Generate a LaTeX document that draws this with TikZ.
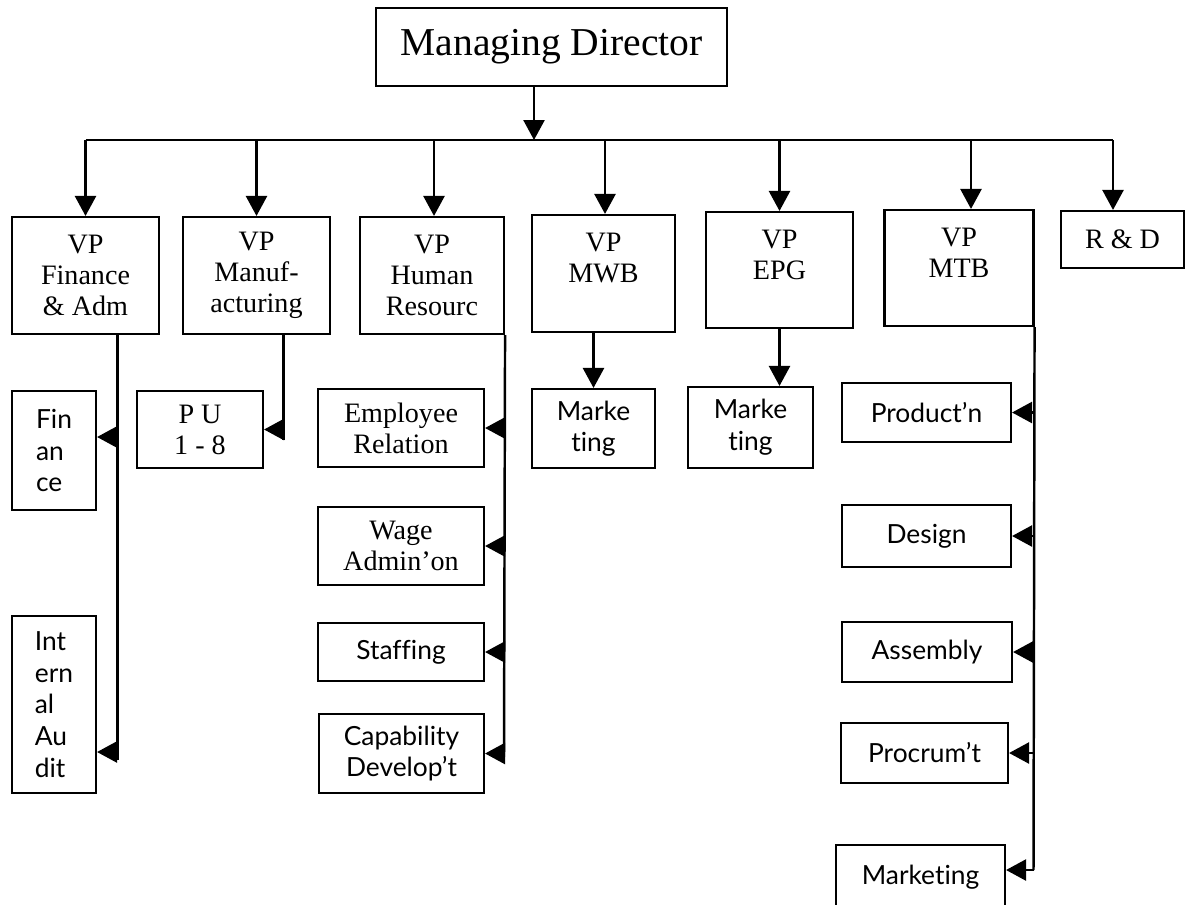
\documentclass[tikz,border=0pt]{standalone}
\usepackage{fontspec}
\setmainfont{Liberation Serif}
\newfontfamily\optfont[Ligatures={NoCommon}]{Lato}
\usepackage{tikz}
\usetikzlibrary{arrows.meta,positioning}
\newcommand{\boxfont}{\fontsize{16}{17.6}\selectfont}
\newcommand{\optbox}{\optfont\fontsize{15}{18}\selectfont}
\tikzstyle{conn} = [line width=1.4pt]
\tikzstyle{arrow} = [conn,-{Triangle[length=0.4cm,width=0.42cm]}]
\tikzstyle{box} = [draw, line width=1.2pt, inner sep=0pt, align=center, font=\boxfont]
\tikzstyle{obox} = [box, font=\optbox]
\tikzset{sz/.style 2 args={minimum width=#1*0.02cm, minimum height=#2*0.02cm}}

\begin{document}
\begin{tikzpicture}[x=0.02cm, y=-0.02cm]
    \useasboundingbox (0,0) rectangle (1193,904);

    % Managing director
    \node[box, sz={351}{78}, font=\fontsize{22.5}{24}\selectfont] (md) at (551.5,47) {Managing Director};

    % VP row
    \node[box, sz={147}{117}] (vpfin) at (85.5,275.5) {VP\\Finance\\\& Adm};
    \node[box, sz={147}{117}] (vpman) at (256.5,275.5) {VP\\Manuf-\\acturing};
    \node[box, sz={144}{117}] (vphr) at (432,275.5) {VP\\Human\\Resourc};
    \node[box, sz={143}{117}] (vpmwb) at (603.5,273.5) {VP\\MWB\\\mbox{}};
    \node[box, sz={147}{116}] (vpepg) at (779.5,270) {VP\\EPG\\\mbox{}};
    \node[box, sz={149}{116}] (vpmtb) at (959,268) {VP\\MTB\\\mbox{}};
    \node[box, sz={123}{57}] (rd) at (1122.5,239.5) {R \& D};

    % Bus
    \coordinate (bus) at (534,140);
    \draw[arrow] (md.south -| bus) -- (bus);
    \draw[conn] (vpfin.north |- bus) -- ([xshift=-0.19cm]rd.north |- bus);
    \foreach \n/\s in {vpfin/0cm, vpman/0cm, vphr/0.04cm, vpmwb/0.03cm, vpepg/0cm, vpmtb/0.24cm, rd/-0.19cm}
        \draw[arrow] ([xshift=\s]\n.north |- bus) -- ([xshift=\s]\n.north);

    % Finance & Adm
    \node[obox, sz={84}{119}, align=left] (fin) at (54,450.5) {Fin\\an\\ce};
    \node[obox, sz={84}{177}, align=left] (audit) at (54,704.5) {Int\\ern\\al\\Au\\dit};
    \coordinate (finend) at (117.5,760);
    \coordinate (tfin) at (117.5,437);
    \coordinate (taud) at (117.5,752);
    \draw[conn] (finend |- vpfin.south) -- (finend);
    \draw[arrow] (tfin) -- (tfin -| fin.east);
    \draw[arrow] (taud) -- (taud -| audit.east);

    % Manufacturing
    \node[box, sz={126}{77}] (pu) at (200,429.5) {P U\\1 - 8};
    \coordinate (manend) at (283.5,440);
    \draw[conn] (manend |- vpman.south) -- (manend);
    \draw[arrow] (manend |- pu.east) -- (pu.east);

    % Human resources
    \node[box, sz={166}{78}] (emp) at (401,428) {Employee\\Relation};
    \node[box, sz={166}{78}] (wage) at (401,546) {Wage\\Admin’on};
    \node[obox, sz={166}{58}] (staff) at (401,652) {Staffing};
    \node[obox, sz={165}{79}] (cap) at (401.5,753.5) {Capability\\Develop’t};
    \coordinate (hrend) at (504,757);
    \draw[conn] (vphr.south east) -- (hrend);
    \foreach \n in {emp,wage,staff,cap}
        \draw[arrow] (hrend |- \n.east) -- (\n.east);

    % MWB and EPG
    \node[obox, sz={123}{79}] (mkt1) at (593.5,428.5) {Marke\\ting};
    \node[obox, sz={125}{81}] (mkt2) at (750.5,427.5) {Marke\\ting};
    \draw[arrow] (mkt1.north |- vpmwb.south) -- (mkt1.north);
    \draw[arrow] (vpepg.south) -- (vpepg.south |- mkt2.north);

    % MTB
    \node[obox, sz={169}{59}] (prod) at (926.5,412.5) {Product’n};
    \node[obox, sz={169}{62}] (design) at (926.5,536) {Design};
    \node[obox, sz={170}{60}] (asm) at (927,652) {Assembly};
    \node[obox, sz={167}{60}] (proc) at (924.5,753) {Procrum’t};
    \node[obox, sz={169}{65}] (mktg) at (920.5,877.5) {Marketing};
    \coordinate (mtbend) at (1033.5,870);
    \draw[conn] (vpmtb.south east) -- (mtbend);
    \foreach \n in {prod,design,asm,proc}
        \draw[arrow] (mtbend |- \n.east) -- (\n.east);
    \draw[arrow] (mtbend) -- (mtbend -| mktg.east);
\end{tikzpicture}
\end{document}
